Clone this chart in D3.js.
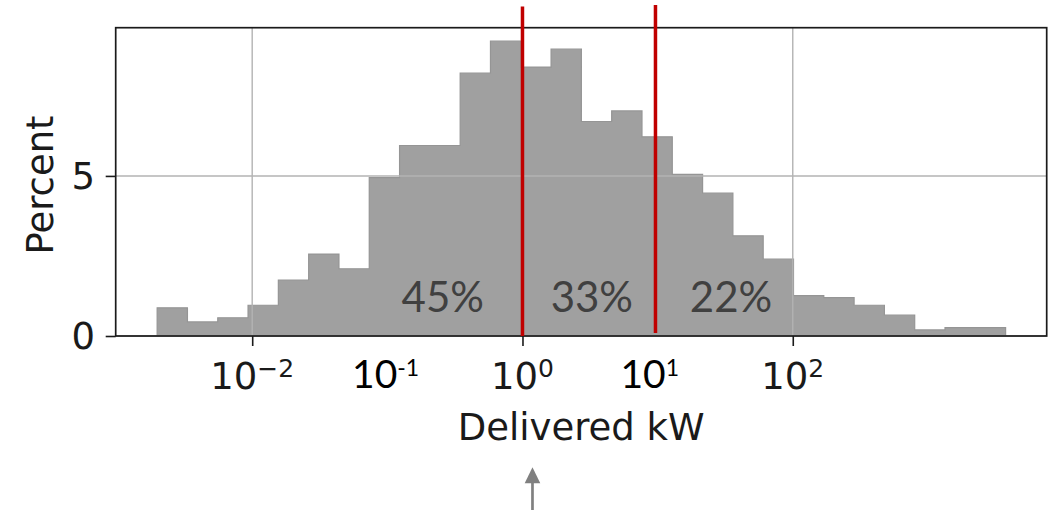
<!DOCTYPE html>
<html>
<head>
<meta charset="utf-8">
<script src="https://cdn.jsdelivr.net/npm/d3@7"></script>
<style>
  body { margin: 0; background: #fff; }
  svg { display: block; }
</style>
</head>
<body>
<svg id="chart" width="1061" height="510"></svg>
<script>
// Histogram of delivered power, log-spaced bins
const binCount = 28;
const binMinKW = 0.00198;
const binMaxKW = 3758;
const percent = [0.88, 0.44, 0.57, 0.96, 1.75, 2.56, 2.10, 4.95, 5.95, 5.95,
                 8.21, 9.21, 8.40, 8.96, 6.70, 7.03, 6.22, 5.05, 4.46, 3.13,
                 2.40, 1.26, 1.20, 0.96, 0.65, 0.19, 0.26, 0.26];

// Split points and the share of sessions in each region
const splitKW = [1, 9.64];
const shareLabels = ["45%", "33%", "22%"];
const shareAtKW = [0.257, 3.26, 34.9];

// Axis ticks
const majorTicksKW = [0.01, 1, 100];
const majorExponents = ["\u22122", "0", "2"];
const extraTicksKW = [0.1, 10];
const extraExponents = ["-1", "1"];
const yTicks = [0, 5];

const svg = d3.select("#chart");
const plot = { left: 115.7, right: 1046.7, top: 27.7, bottom: 336 };

const x = d3.scaleLog()
  .domain([Math.pow(10, -3.01), Math.pow(10, 3.879)])
  .range([plot.left, plot.right]);
const y = d3.scaleLinear()
  .domain([0, 9.63])
  .range([plot.bottom, plot.top]);

// Bin edges, evenly spaced in log10
const logMin = Math.log10(binMinKW), logMax = Math.log10(binMaxKW);
const edges = d3.range(binCount + 1).map(i => Math.pow(10, logMin + (logMax - logMin) * i / binCount));
const bins = percent.map((v, i) => ({ x0: edges[i], x1: edges[i + 1], v }));

// Filled step histogram
const pts = [];
bins.forEach(b => { pts.push([b.x0, b.v]); pts.push([b.x1, b.v]); });
const area = d3.area()
  .x(d => x(d[0]))
  .y0(y(0))
  .y1(d => y(d[1]));
svg.append("path")
  .datum(pts)
  .attr("d", area)
  .attr("fill", "#a0a0a0");

const outline = d3.line().x(d => x(d[0])).y(d => y(d[1]));
const outlinePts = [[bins[0].x0, 0], ...pts, [bins[bins.length - 1].x1, 0]];
svg.append("path")
  .datum(outlinePts)
  .attr("d", outline)
  .attr("fill", "none")
  .attr("stroke", "#959595")
  .attr("stroke-width", 1.2);

// Grid lines (above the bars)
const grid = svg.append("g").attr("stroke", "#b3b3b3").attr("stroke-width", 1.4);
grid.selectAll("line.v").data(majorTicksKW).join("line")
  .attr("x1", d => x(d)).attr("x2", d => x(d))
  .attr("y1", plot.top).attr("y2", plot.bottom);
grid.selectAll("line.h").data(yTicks).join("line")
  .attr("x1", plot.left).attr("x2", plot.right)
  .attr("y1", d => y(d)).attr("y2", d => y(d));

// Share labels
svg.append("g")
  .selectAll("text").data(shareLabels).join("text")
  .attr("x", (d, i) => x(shareAtKW[i]))
  .attr("y", 311.7)
  .attr("text-anchor", "middle")
  .attr("font-family", "Lato, 'Open Sans', sans-serif")
  .attr("font-size", 42)
  .attr("fill", "#404040")
  .text(d => d);

// Axes
const xAxis = d3.axisBottom(x).tickValues(majorTicksKW).tickSize(10).tickFormat("");
const gx = svg.append("g").attr("transform", `translate(0,${plot.bottom})`).call(xAxis);
gx.select(".domain").remove();
gx.selectAll(".tick line").attr("stroke", "#1a1a1a").attr("stroke-width", 1.6);

const yAxis = d3.axisLeft(y).tickValues(yTicks).tickSize(10).tickFormat("");
const gy = svg.append("g").attr("transform", `translate(${plot.left},0)`).call(yAxis);
gy.select(".domain").remove();
gy.selectAll(".tick line").attr("stroke", "#1a1a1a").attr("stroke-width", 1.6);

// Frame
svg.append("rect")
  .attr("x", plot.left).attr("y", plot.top)
  .attr("width", plot.right - plot.left).attr("height", plot.bottom - plot.top)
  .attr("fill", "none").attr("stroke", "#1a1a1a").attr("stroke-width", 1.7);

// Split markers
svg.append("g")
  .selectAll("line").data(splitKW).join("line")
  .attr("x1", d => x(d)).attr("x2", d => x(d))
  .attr("y1", (d, i) => i === 0 ? 6.5 : 5)
  .attr("y2", (d, i) => i === 0 ? plot.bottom : 333)
  .attr("stroke", "#c00000")
  .attr("stroke-width", 3.5);

// Major tick labels: 10 with superscript exponent
const dv = "'DejaVu Sans', sans-serif";
const majorLabels = svg.append("g").attr("font-family", dv).attr("fill", "#1a1a1a");
majorTicksKW.forEach((t, i) => {
  const txt = majorLabels.append("text")
    .attr("x", x(t)).attr("y", 389.3)
    .attr("text-anchor", "middle");
  txt.append("tspan").attr("font-size", 37).text("10");
  txt.append("tspan").attr("font-size", 25).attr("dy", -12.8).text(majorExponents[i]);
});

// Intermediate decade labels
const extraOffsets = [-1.7, -7.9];
const extraLabels = svg.append("g").attr("font-family", "Lato, 'Open Sans', sans-serif").attr("fill", "#000");
extraTicksKW.forEach((t, i) => {
  const txt = extraLabels.append("text")
    .attr("x", x(t) + extraOffsets[i]).attr("y", 387.5)
    .attr("text-anchor", "middle");
  txt.append("tspan").attr("font-size", 39).text("10");
  txt.append("tspan").attr("font-size", 23).attr("dy", -11.5).text(extraExponents[i]);
});

// Y tick labels
svg.append("g")
  .selectAll("text").data(yTicks).join("text")
  .attr("x", 95).attr("y", d => y(d))
  .attr("dy", "0.36em")
  .attr("text-anchor", "end")
  .attr("font-family", dv).attr("font-size", 37).attr("fill", "#1a1a1a")
  .text(d => d);

// Axis titles
svg.append("text")
  .attr("x", (plot.left + plot.right) / 2).attr("y", 440)
  .attr("text-anchor", "middle")
  .attr("font-family", dv).attr("font-size", 37).attr("fill", "#1a1a1a")
  .text("Delivered kW");

svg.append("text")
  .attr("transform", "translate(53,185) rotate(-90)")
  .attr("text-anchor", "middle")
  .attr("font-family", dv).attr("font-size", 37).attr("fill", "#1a1a1a")
  .text("Percent");

// Pointer arrow below the axis title
const ax = x(1) + 10;
svg.append("line")
  .attr("x1", ax).attr("x2", ax).attr("y1", 482).attr("y2", 510)
  .attr("stroke", "#808080").attr("stroke-width", 2.7);
svg.append("path")
  .attr("d", `M${ax},467.3 L${ax + 7.8},483.3 L${ax - 7.8},483.3 Z`)
  .attr("fill", "#808080");
</script>
</body>
</html>
